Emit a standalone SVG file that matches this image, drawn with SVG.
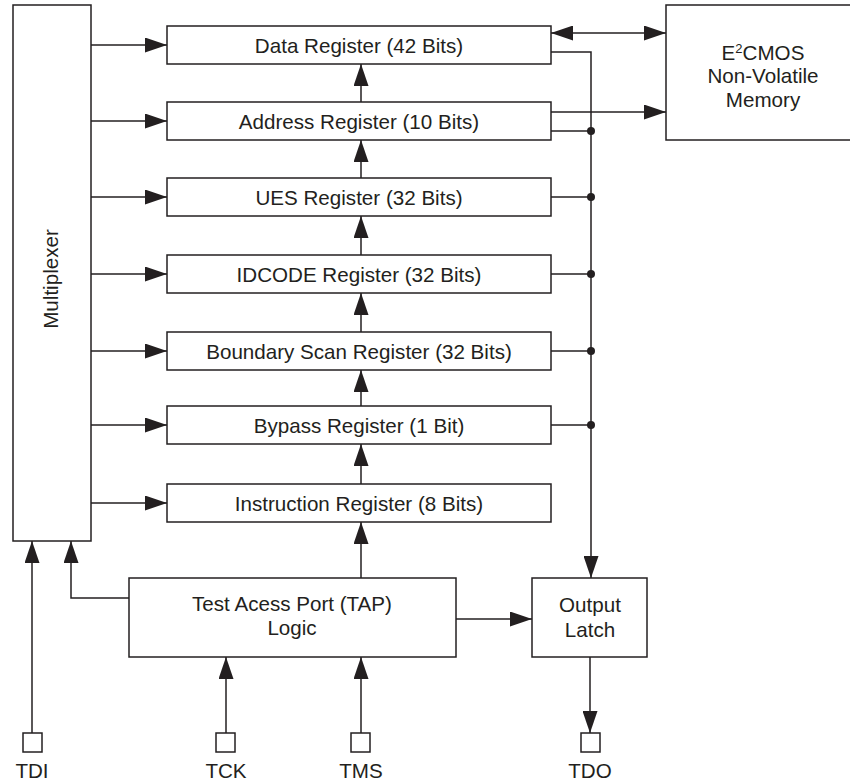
<svg xmlns="http://www.w3.org/2000/svg" width="850" height="783" viewBox="0 0 850 783">
<style>
.box{fill:#fff;stroke:#231f20;stroke-width:1.5}
.ln{fill:none;stroke:#231f20;stroke-width:1.5}
.arr{marker-end:url(#ah)}
.t{font-family:"Liberation Sans",Arial,Helvetica,sans-serif;font-size:20.6px;fill:#231f20;text-anchor:middle}
.dot{fill:#231f20}
</style>
<defs>
<marker id="ah" markerUnits="userSpaceOnUse" markerWidth="22" markerHeight="15" refX="22" refY="7.5" orient="auto-start-reverse" viewBox="0 0 22 15">
<path d="M0,0 L22,7.5 L0,15 z" fill="#231f20"/>
</marker>
</defs>
<rect width="850" height="783" fill="#fff"/>
<g id="connectors">
<!-- mux to registers -->
<line class="ln arr" x1="91" y1="45" x2="167" y2="45"/>
<line class="ln arr" x1="91" y1="121" x2="167" y2="121"/>
<line class="ln arr" x1="91" y1="197" x2="167" y2="197"/>
<line class="ln arr" x1="91" y1="274" x2="167" y2="274"/>
<line class="ln arr" x1="91" y1="351" x2="167" y2="351"/>
<line class="ln arr" x1="91" y1="425" x2="167" y2="425"/>
<line class="ln arr" x1="91" y1="503" x2="167" y2="503"/>
<!-- vertical chain -->
<line class="ln arr" x1="361" y1="102" x2="361" y2="64"/>
<line class="ln arr" x1="361" y1="178" x2="361" y2="140"/>
<line class="ln arr" x1="361" y1="255" x2="361" y2="216"/>
<line class="ln arr" x1="361" y1="332" x2="361" y2="293"/>
<line class="ln arr" x1="361" y1="406" x2="361" y2="370"/>
<line class="ln arr" x1="361" y1="484" x2="361" y2="444"/>
<line class="ln arr" x1="361" y1="578" x2="361" y2="522"/>
<!-- memory -->
<line class="ln arr" x1="551" y1="33" x2="666" y2="33" style="marker-start:url(#ah)"/>
<line class="ln arr" x1="551" y1="112" x2="666" y2="112"/>
<!-- output bus -->
<polyline class="ln arr" points="551,52 591,52 591,578"/>
<line class="ln" x1="551" y1="131" x2="591" y2="131"/>
<line class="ln" x1="551" y1="197" x2="591" y2="197"/>
<line class="ln" x1="551" y1="274" x2="591" y2="274"/>
<line class="ln" x1="551" y1="351" x2="591" y2="351"/>
<line class="ln" x1="551" y1="425" x2="591" y2="425"/>
<circle class="dot" cx="591" cy="131" r="4"/>
<circle class="dot" cx="591" cy="197" r="4"/>
<circle class="dot" cx="591" cy="274" r="4"/>
<circle class="dot" cx="591" cy="351" r="4"/>
<circle class="dot" cx="591" cy="425" r="4"/>
<!-- TAP -->
<polyline class="ln arr" points="129,598 71,598 71,541"/>
<line class="ln arr" x1="32" y1="733" x2="32" y2="541"/>
<line class="ln arr" x1="456" y1="619" x2="532" y2="619"/>
<line class="ln arr" x1="226" y1="733" x2="226" y2="657"/>
<line class="ln arr" x1="361" y1="733" x2="361" y2="657"/>
<line class="ln arr" x1="590" y1="657" x2="590" y2="733"/>
</g>
<g id="mux"><rect class="box" x="13" y="5" width="78" height="536"/><text class="t" transform="translate(58,279) rotate(-90)">Multiplexer</text></g>
<g id="data"><rect class="box" x="167" y="26" width="384" height="38"/><text class="t" x="359" y="52.5">Data Register (42 Bits)</text></g>
<g id="address"><rect class="box" x="167" y="102" width="384" height="38"/><text class="t" x="359" y="128.5">Address Register (10 Bits)</text></g>
<g id="ues"><rect class="box" x="167" y="178" width="384" height="38"/><text class="t" x="359" y="204.5">UES Register (32 Bits)</text></g>
<g id="idcode"><rect class="box" x="167" y="255" width="384" height="38"/><text class="t" x="359" y="281.5">IDCODE Register (32 Bits)</text></g>
<g id="boundary"><rect class="box" x="167" y="332" width="384" height="38"/><text class="t" x="359" y="358.5">Boundary Scan Register (32 Bits)</text></g>
<g id="bypass"><rect class="box" x="167" y="406" width="384" height="38"/><text class="t" x="359" y="432.5">Bypass Register (1 Bit)</text></g>
<g id="instruction"><rect class="box" x="167" y="484" width="384" height="38"/><text class="t" x="359" y="510.5">Instruction Register (8 Bits)</text></g>
<g id="memory"><rect class="box" x="666" y="5" width="200" height="135"/><text class="t" x="763" y="60">E<tspan font-size="13" dy="-7">2</tspan><tspan dy="7">CMOS</tspan></text><text class="t" x="763" y="83">Non-Volatile</text><text class="t" x="763" y="107">Memory</text></g>
<g id="tap"><rect class="box" x="129" y="578" width="327" height="79"/><text class="t" x="292" y="611">Test Acess Port (TAP)</text><text class="t" x="292" y="635">Logic</text></g>
<g id="latch"><rect class="box" x="532" y="578" width="115" height="79"/><text class="t" x="590" y="612">Output</text><text class="t" x="590" y="637">Latch</text></g>
<g id="tdi"><rect class="box" x="23" y="733" width="19" height="19"/><text class="t" x="32" y="778">TDI</text></g>
<g id="tck"><rect class="box" x="216" y="733" width="19" height="19"/><text class="t" x="226" y="778">TCK</text></g>
<g id="tms"><rect class="box" x="351" y="733" width="19" height="19"/><text class="t" x="361" y="778">TMS</text></g>
<g id="tdo"><rect class="box" x="581" y="733" width="19" height="19"/><text class="t" x="590" y="778">TDO</text></g>
</svg>
